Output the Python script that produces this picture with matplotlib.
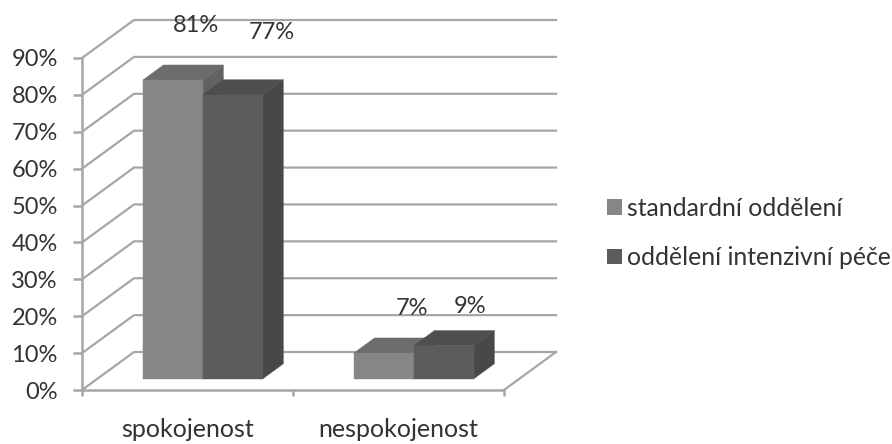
import numpy as np
import matplotlib
matplotlib.use('Agg')
import matplotlib.pyplot as plt
from matplotlib.patches import Polygon, Patch

plt.rcParams['font.family'] = ['Lato', 'DejaVu Sans']

categories = ['spokojenost', 'nespokojenost']
series_names = ['standardní oddělení', 'oddělení intenzivní péče']
standard = [81, 7]
intensive = [77, 9]
y_ticks = [0, 10, 20, 30, 40, 50, 60, 70, 80, 90]
y_labels = ['0%', '10%', '20%', '30%', '40%', '50%', '60%', '70%', '80%', '90%']

# posun hloubky 3D pohledu v datovych jednotkach
DEPTH_X = 52 / 211
DEPTH_Y = 10.3
BAR_W = 0.284
BAR_D0 = 0.29
BAR_D1 = 0.69

FACE_COLORS = [('#858688', '#6b6c6e', '#616264'), ('#5c5c5e', '#4e4e50', '#47484a')]
GRID = '#a6a6a6'
TEXT = '#333333'


def proj(x, y, d):
    return x + d * DEPTH_X, y + d * DEPTH_Y


def draw_bar(ax, x0, value, colors, z):
    x1 = x0 + BAR_W
    front = [proj(x0, 0, BAR_D0), proj(x1, 0, BAR_D0), proj(x1, value, BAR_D0), proj(x0, value, BAR_D0)]
    top = [proj(x0, value, BAR_D0), proj(x1, value, BAR_D0), proj(x1, value, BAR_D1), proj(x0, value, BAR_D1)]
    side = [proj(x1, 0, BAR_D0), proj(x1, 0, BAR_D1), proj(x1, value, BAR_D1), proj(x1, value, BAR_D0)]
    for pts, c in zip([side, top, front], [colors[2], colors[1], colors[0]]):
        ax.add_patch(Polygon(pts, closed=True, facecolor=c, edgecolor=c, lw=0.3, zorder=z, clip_on=False))


fig = plt.figure(figsize=(8.92, 4.44), dpi=100)
ax = fig.add_axes([82 / 892, (444 - 390) / 444, (504 - 82) / 892, (390 - 58) / 444])
ax.set_xlim(0, 2)
ax.set_ylim(0, 90)

# zadni stena a bocni hrany mrizky
for t in y_ticks:
    xs = [0, DEPTH_X, 2 + DEPTH_X]
    ys = [t, t + DEPTH_Y, t + DEPTH_Y]
    ax.plot(xs, ys, color=GRID, lw=1.6, zorder=1, clip_on=False)
ax.plot([2, 2 + DEPTH_X], [0, DEPTH_Y], color=GRID, lw=1.6, zorder=1, clip_on=False)

for i in range(len(categories)):
    center = i + 0.5
    draw_bar(ax, center - BAR_W, standard[i], FACE_COLORS[0], 3)
    draw_bar(ax, center, intensive[i], FACE_COLORS[1], 4)

# popisky hodnot (rucne posunute jako v puvodnim grafu)
label_offsets = [[(28, 47), (39, 53)], [(31, 40), (30, 36)]]
for i in range(len(categories)):
    center = i + 0.5
    for j, vals in enumerate([standard, intensive]):
        x = center - BAR_W / 2 if j == 0 else center + BAR_W / 2
        ax.annotate(f'{vals[i]}%', xy=(x, vals[i]), xytext=label_offsets[i][j],
                    textcoords='offset points', ha='center', va='center',
                    fontsize=17, color=TEXT, zorder=6, annotation_clip=False)

for s in ['top', 'right']:
    ax.spines[s].set_visible(False)
for s in ['left', 'bottom']:
    ax.spines[s].set_color(GRID)
    ax.spines[s].set_linewidth(1.8)

ax.set_yticks(y_ticks)
ax.set_yticklabels(y_labels)
ax.tick_params(axis='y', length=6.5, width=1.8, color=GRID, labelsize=17, labelcolor=TEXT, pad=11)
ax.set_xticks([0, 1, 2])
ax.set_xticklabels([])
ax.tick_params(axis='x', which='major', length=4.5, width=1.8, color=GRID)
ax.set_xticks([0.5, 1.5], minor=True)
ax.set_xticklabels(categories, minor=True)
ax.tick_params(axis='x', which='minor', length=0, labelsize=18, labelcolor=TEXT, pad=20)

handles = [Patch(facecolor=FACE_COLORS[0][0]), Patch(facecolor=FACE_COLORS[1][0])]
fig.legend(handles, series_names, loc='center left', bbox_to_anchor=(607 / 892, 1 - 233 / 444),
           frameon=False, fontsize=17.8, labelcolor=TEXT, handlelength=0.6, handleheight=0.6,
           handletextpad=0.22, labelspacing=1.08, borderpad=0, borderaxespad=0)

fig.savefig('out.png', dpi=100)
